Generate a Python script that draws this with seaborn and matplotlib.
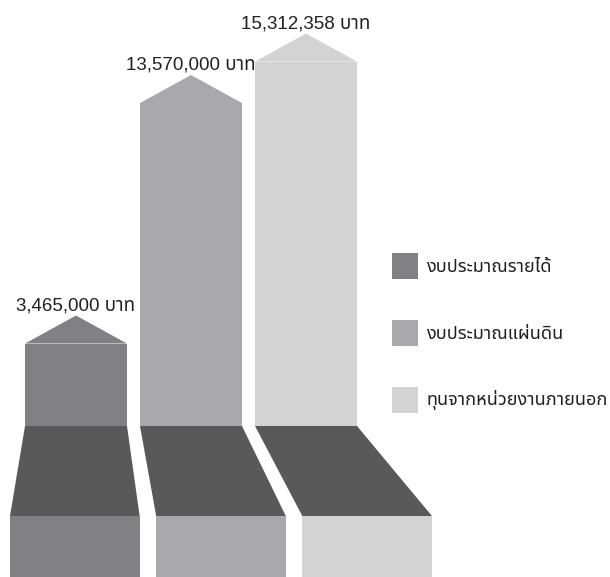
import numpy as np
import pandas as pd
import matplotlib
matplotlib.use('Agg')
import matplotlib.pyplot as plt
from matplotlib.patches import Polygon, Rectangle, Patch
import seaborn as sns

sns.set_style('white')
plt.rcParams['font.family'] = ['Liberation Sans', 'Noto Sans Thai', 'Noto Sans Thai UI',
                               'DejaVu Sans']

# data
sources = ['งบประมาณรายได้', 'งบประมาณแผ่นดิน', 'ทุนจากหน่วยงานภายนอก']
amounts = [3465000, 13570000, 15312358]
bar_colors = ['#808184', '#a7a9ac', '#d1d3d4']
floor_color = '#58595b'

df = pd.DataFrame({'source': sources, 'amount': amounts})
df['amount_m'] = df['amount'] / 1e6

# layout (pixels of a 610x577 canvas)
W, H = 610, 577
ppm = 23.8          # px per million baht
ppu = 115           # px per category step
x0_px = 76          # centre of first bar
base_px = 151       # baseline height from bottom
head = 28 / ppm     # arrow head height
floor_d = 90 / ppm  # depth of the dark floor
vp, k = 0.038, 1.271  # perspective of the base

fig = plt.figure(figsize=(W / 100, H / 100), dpi=100)
ax = fig.add_axes([0, 0, 1, 1])

sns.barplot(data=df, x='source', y='amount_m', hue='source', palette=bar_colors,
            width=102 / ppu, saturation=1, legend=False, ax=ax, linewidth=0)

ax.set_xlim(-x0_px / ppu, (W - x0_px) / ppu)
ax.set_ylim(-base_px / ppm, (H - base_px) / ppm)
ax.axis('off')

persp = lambda x: vp + (x - vp) * k

for p, col, amt in zip(ax.patches, bar_colors, amounts):
    x, w, h = p.get_x(), p.get_width(), p.get_height()
    # arrow head
    ax.add_patch(Polygon([(x, h), (x + w, h), (x + w / 2, h + head)],
                         closed=True, fc=col, ec='none'))
    # dark floor
    ax.add_patch(Polygon([(x, 0), (x + w, 0), (persp(x + w), -floor_d), (persp(x), -floor_d)],
                         closed=True, fc=floor_color, ec='none'))
    # front face
    ax.add_patch(Rectangle((persp(x), -base_px / ppm - 1), persp(x + w) - persp(x),
                           base_px / ppm + 1 - floor_d, fc=col, ec='none'))
    ax.annotate(f'{amt:,} บาท', (x + w / 2, h + head), xytext=(0, 1),
                textcoords='offset points', ha='center', va='bottom',
                fontsize=13.5, color='#231f20')

handles = [Patch(fc=c, ec='none') for c in bar_colors]
fig.legend(handles, sources, loc='upper left', bbox_to_anchor=(392 / W, 1 - 253 / H),
           frameon=False, borderpad=0, borderaxespad=0, fontsize=13,
           handlelength=1.42, handleheight=1.85, handletextpad=0.5, labelspacing=2.25,
           labelcolor='#231f20')

fig.savefig('out.png', dpi=100)
